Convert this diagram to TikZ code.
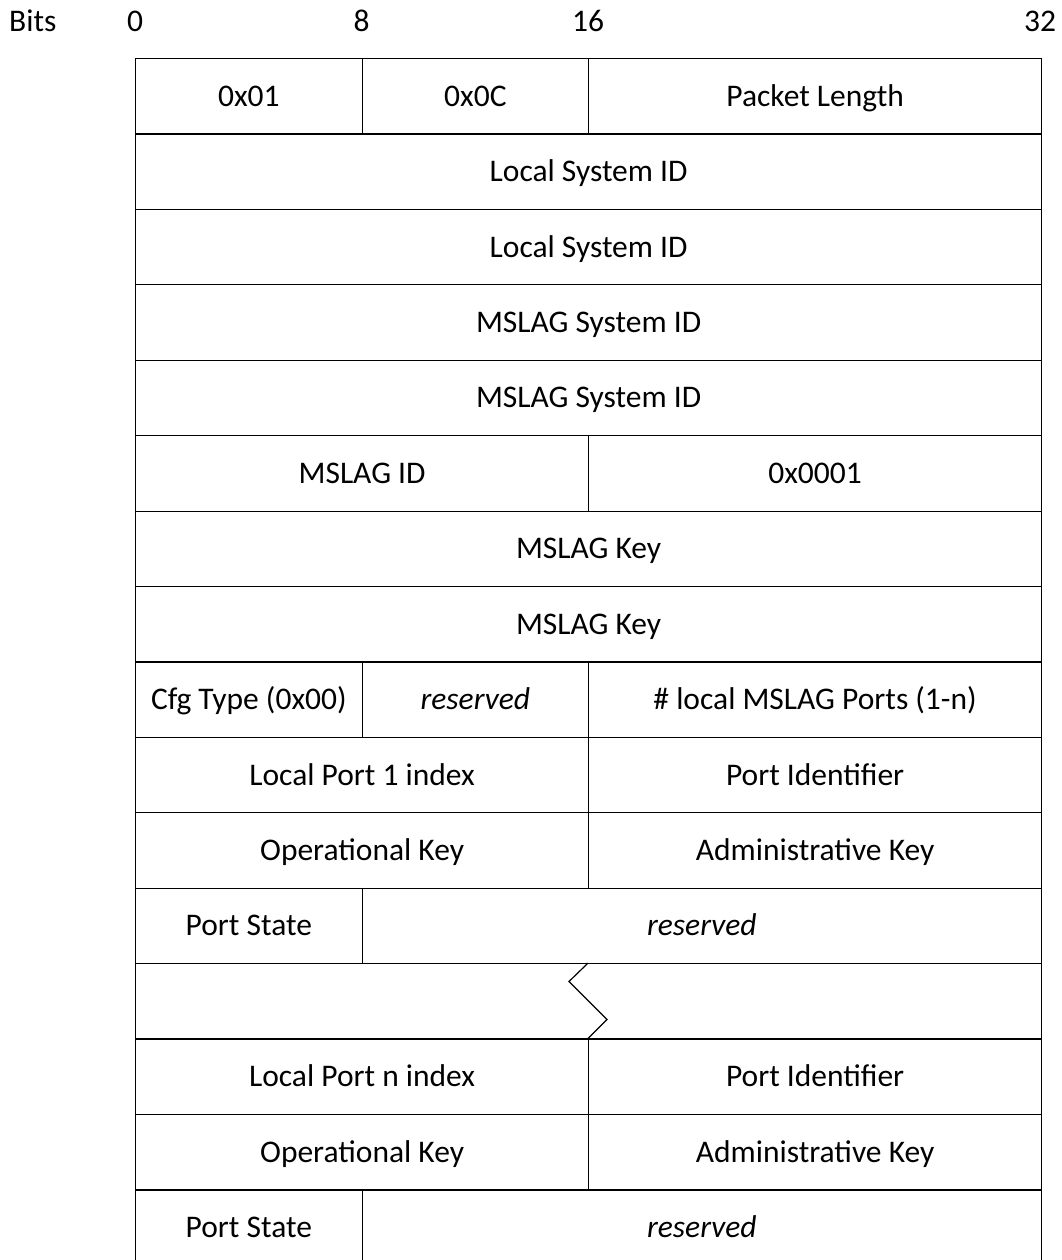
\documentclass[tikz,border=0pt]{standalone}
\usepackage{fontspec}
\setmainfont{Carlito}
\begin{document}
\begin{tikzpicture}[x=1pt,y=-1pt,
  every node/.style={font=\fontsize{31.5}{37}\selectfont},
  cell/.style={draw, line width=1.2pt, anchor=north west, inner sep=0pt, minimum height=75.42pt, text height=20pt, text depth=0pt},
  w8/.style={cell, minimum width=226.5pt},
  w16/.style={cell, minimum width=453pt},
  w24/.style={cell, minimum width=679.5pt},
  w32/.style={cell, minimum width=906pt},
  hdr/.style={inner sep=0pt, text height=20pt, text depth=0pt},
  zig/.style={line width=1.2pt}]
\useasboundingbox (0,0) rectangle (1062,1260);
\clip (0,0) rectangle (1062,1260);
% header
\node[hdr, anchor=west] (bits) at (9,22) {Bits};
\node[hdr] (b0) at (135,22) {0};
\node[hdr] (b8) at (361.5,22) {8};
\node[hdr] (b16) at (588,22) {16};
\node[hdr] (b32) at (1040,22) {32};
% rows (row height 75.42, top 58)
\node[w8]  (r0a) at (135,58) {0x01};
\node[w8]  (r0b) at (361.5,58) {0x0C};
\node[w16] (r0c) at (588,58) {Packet Length};
\node[w32] (r1) at (135,133.42) {Local System ID};
\node[w32] (r2) at (135,208.84) {Local System ID};
\node[w32] (r3) at (135,284.26) {MSLAG System ID};
\node[w32] (r4) at (135,359.68) {MSLAG System ID};
\node[w16] (r5a) at (135,435.10) {MSLAG ID};
\node[w16] (r5b) at (588,435.10) {0x0001};
\node[w32] (r6) at (135,510.52) {MSLAG Key};
\node[w32] (r7) at (135,585.94) {MSLAG Key};
\node[w8]  (r8a) at (135,661.36) {Cfg Type (0x00)};
\node[w8]  (r8b) at (361.5,661.36) {\itshape reserved};
\node[w16] (r8c) at (588,661.36) {\# local MSLAG Ports (1-n)};
\node[w16] (r9a) at (135,736.78) {Local Port 1 index};
\node[w16] (r9b) at (588,736.78) {Port Identifier};
\node[w16] (r10a) at (135,812.20) {Operational Key};
\node[w16] (r10b) at (588,812.20) {Administrative Key};
\node[w8]  (r11a) at (135,887.62) {Port State};
\node[w24] (r11b) at (361.5,887.62) {\itshape reserved};
\node[w32] (r12) at (135,963.04) {};
\node[w16] (r13a) at (135,1038.46) {Local Port n index};
\node[w16] (r13b) at (588,1038.46) {Port Identifier};
\node[w16] (r14a) at (135,1113.88) {Operational Key};
\node[w16] (r14b) at (588,1113.88) {Administrative Key};
\node[w8]  (r15a) at (135,1189.30) {Port State};
\node[w24] (r15b) at (361.5,1189.30) {\itshape reserved};
% zigzag break
\coordinate (z1) at (588,963.04);
\coordinate (z2) at (569,981.5);
\coordinate (z3) at (607,1019.5);
\coordinate (z4) at (588,1038.46);
\draw[zig] (z1) -- (z2) -- (z3) -- (z4);
\end{tikzpicture}
\end{document}
